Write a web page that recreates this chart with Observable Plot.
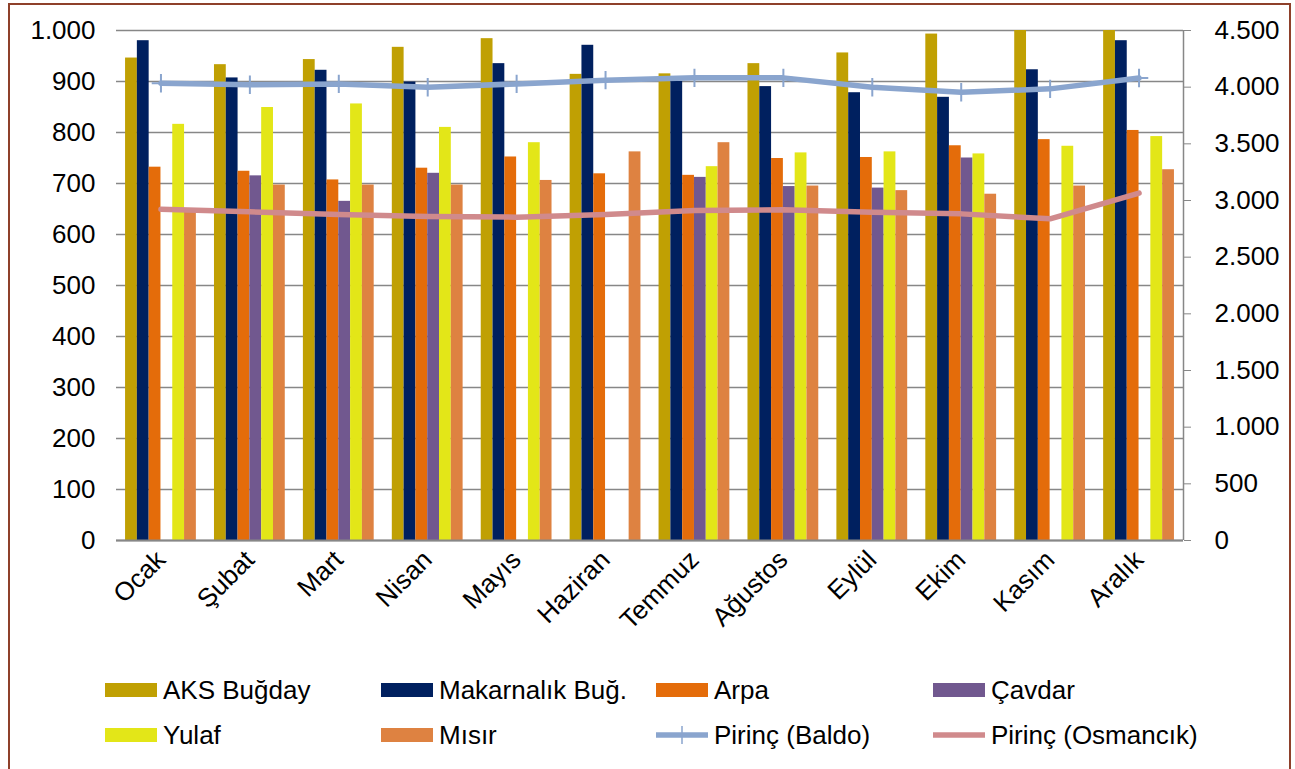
<!DOCTYPE html>
<html>
<head>
<meta charset="utf-8">
<script src="https://cdn.jsdelivr.net/npm/d3@7"></script>
<script src="https://cdn.jsdelivr.net/npm/@observablehq/plot@0.6"></script>
<style>
  html, body { margin: 0; padding: 0; background: #fff; }
  #wrap { position: relative; width: 1295px; height: 769px; overflow: hidden; font-family: "Liberation Sans", Arial, sans-serif; }
  #border { position: absolute; left: 8px; top: 3px; width: 1279px; height: 800px; border: 2px solid #8E402A; pointer-events: none; }
  #chart { position: absolute; left: 0; top: 0; }
  .legend { position: absolute; left: 0; top: 0; width: 1295px; }
  .item { position: absolute; display: flex; align-items: center; font-size: 26px; color: #000; white-space: nowrap; }
  .sw { width: 52px; height: 14px; margin-right: 6px; }
  .ln { width: 52px; height: 20px; margin-right: 6px; }
</style>
</head>
<body>
<div id="wrap">
  <div id="chart"></div>
  <div class="legend" id="legend"></div>
  <div id="border"></div>
</div>
<script>
// ---- data ----
const months = ["Ocak","Şubat","Mart","Nisan","Mayıs","Haziran","Temmuz","Ağustos","Eylül","Ekim","Kasım","Aralık"];
const aksBugday   = [946, 933, 943, 967, 984, 914, 915, 935, 956, 993, 1000, 1000];
const makarnalik  = [980, 907, 922, 899, 935, 971, 900, 890, 878, 869, 923, 980];
const arpa        = [732, 724, 707, 730, 752, 719, 716, 749, 751, 774, 786, 804];
const cavdar      = [null, 715, 665, 720, null, null, 712, 694, 691, 750, null, null];
const yulaf       = [816, 849, 856, 810, 780, null, 733, 760, 762, 758, 773, 792];
const misir       = [645, 697, 697, 697, 706, 762, 780, 695, 686, 679, 695, 727];
const pirincBaldo = [4035, 4021, 4029, 4000, 4029, 4062, 4082, 4082, 4000, 3956, 3985, 4080];
const pirincOsm   = [2923, 2900, 2876, 2859, 2853, 2876, 2912, 2918, 2897, 2882, 2838, 3065];
const leftTicks  = [0, 100, 200, 300, 400, 500, 600, 700, 800, 900, 1000];
const rightTicks = [0, 500, 1000, 1500, 2000, 2500, 3000, 3500, 4000, 4500];

const barSeries = [
  {name: "AKS Buğday", values: aksBugday, color: "#C0A003"},
  {name: "Makarnalık Buğ.", values: makarnalik, color: "#00205F"},
  {name: "Arpa", values: arpa, color: "#E46C0A"},
  {name: "Çavdar", values: cavdar, color: "#71588F"},
  {name: "Yulaf", values: yulaf, color: "#E3E618"},
  {name: "Mısır", values: misir, color: "#DE8241"}
];
const lineSeries = [
  {name: "Pirinç (Baldo)", values: pirincBaldo, color: "#8AA5CE"},
  {name: "Pirinç (Osmancık)", values: pirincOsm, color: "#D08A8C"}
];

// ---- layout ----
const W = 1295, H = 660;
const mL = 116, mR = 112, mT = 30, mB = 120;
const band = (W - mL - mR) / months.length;
const bw = 11.8;
const k = 1000 / 4500; // secondary axis ratio

const fmt = d3.formatLocale({decimal: ",", thousands: ".", grouping: [3], currency: ["", ""]}).format(",d");

const marks = [];
marks.push(Plot.gridY(leftTicks, {stroke: "#878787", strokeOpacity: 1, strokeWidth: 1.3}));
barSeries.forEach((s, i) => {
  const rows = months.map((m, j) => ({month: m, value: s.values[j]})).filter(d => d.value != null);
  marks.push(Plot.barY(rows, {
    x: "month", y: "value", fill: s.color,
    insetLeft: (band - bw) / 2, insetRight: (band - bw) / 2,
    dx: (i - 2.5) * bw
  }));
});
marks.push(Plot.ruleY([0], {stroke: "#878787", strokeWidth: 2}));
marks.push(Plot.ruleX([months[months.length - 1]], {x: d => d, dx: band / 2, stroke: "#878787", strokeWidth: 1.5}));
lineSeries.forEach((s, i) => {
  const rows = months.map((m, j) => ({month: m, value: s.values[j] * k}));
  marks.push(Plot.line(rows, {x: "month", y: "value", stroke: s.color, strokeWidth: 5.5, strokeLinejoin: "round"}));
  if (i === 0) {
    marks.push(Plot.dot(rows, {x: "month", y: "value", symbol: "plus", r: 6, stroke: s.color, strokeWidth: 2}));
  }
});
marks.push(Plot.axisY(leftTicks, {anchor: "left", tickSize: 0, tickPadding: 21, tickFormat: fmt, fontSize: 26, fill: "#000"}));
marks.push(Plot.axisY(rightTicks.map(v => v * k), {anchor: "right", tickSize: 7, tickPadding: 24, tickFormat: d => fmt(Math.round(d / k)), fontSize: 26, fill: "#000", stroke: "#878787"}));
marks.push(Plot.axisX(months, {tickSize: 0, tickPadding: 15, tickRotate: -45, fontSize: 26, fill: "#000"}));

const chart = Plot.plot({
  width: W, height: H,
  marginLeft: mL, marginRight: mR, marginTop: mT, marginBottom: mB,
  style: {fontFamily: "'Liberation Sans', Arial, sans-serif", background: "transparent", color: "#000"},
  x: {type: "band", domain: months, padding: 0, round: false, label: null},
  y: {domain: [0, 1000], label: null},
  marks
});
document.getElementById("chart").appendChild(chart);

// ---- legend ----
const legend = document.getElementById("legend");
const cols = [105, 381, 656, 933];
const rowsY = [690, 735];
const entries = [...barSeries.slice(0, 4), ...barSeries.slice(4), ...lineSeries];
entries.forEach((e, idx) => {
  const r = Math.floor(idx / 4), c = idx % 4;
  const it = document.createElement("div");
  it.className = "item";
  it.style.left = cols[c] + "px";
  it.style.top = (rowsY[r] - 15) + "px";
  it.style.height = "30px";
  let sw;
  if (lineSeries.includes(e)) {
    sw = document.createElementNS("http://www.w3.org/2000/svg", "svg");
    sw.setAttribute("class", "ln");
    sw.setAttribute("width", 52); sw.setAttribute("height", 20);
    let inner = `<line x1="0" x2="52" y1="10" y2="10" stroke="${e.color}" stroke-width="5.5" stroke-linecap="round"/>`;
    if (e === lineSeries[0]) inner += `<line x1="26" x2="26" y1="1" y2="19" stroke="${e.color}" stroke-width="1.5"/>`;
    sw.innerHTML = inner;
  } else {
    sw = document.createElement("div");
    sw.className = "sw";
    sw.style.background = e.color;
  }
  it.appendChild(sw);
  const t = document.createElement("span");
  t.textContent = e.name;
  it.appendChild(t);
  legend.appendChild(it);
});
</script>
</body>
</html>
